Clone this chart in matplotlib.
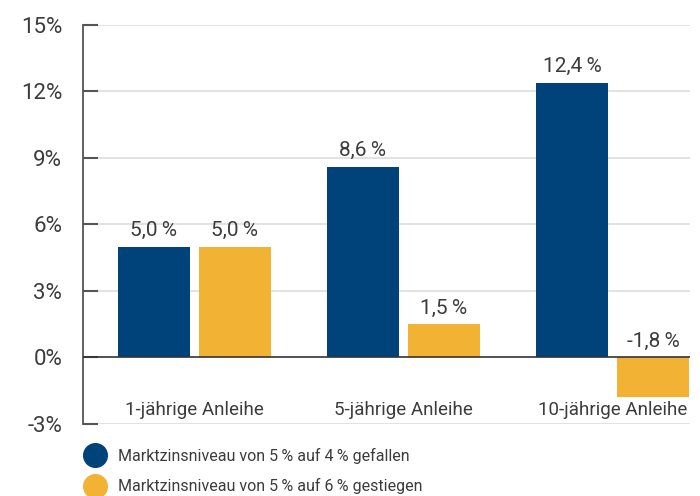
import matplotlib
matplotlib.use("Agg")
import matplotlib.pyplot as plt
from matplotlib.lines import Line2D
import numpy as np

plt.rcParams['font.family'] = ['Roboto', 'DejaVu Sans']

categories = ['1-jährige Anleihe', '5-jährige Anleihe', '10-jährige Anleihe']
gefallen = [5.0, 8.6, 12.4]   # Marktzins 5 % -> 4 %
gestiegen = [5.0, 1.5, -1.8]  # Marktzins 5 % -> 6 %
series_names = ['Marktzinsniveau von 5\u2009% auf 4\u2009% gefallen',
                'Marktzinsniveau von 5\u2009% auf 6\u2009% gestiegen']
yticks = [-3, 0, 3, 6, 9, 12, 15]

blue = '#00427a'
yellow = '#f2b233'
txt = '#3c3c3c'

fig = plt.figure(figsize=(7, 4.96), dpi=100)
ax = fig.add_axes([0.1186, 0.1452, 0.8671, 0.8044])

x = np.arange(len(categories))
w = 0.345
off = 0.194
ax.bar(x - off, gefallen, w, color=blue, zorder=3)
ax.bar(x + off, gestiegen, w, color=yellow, zorder=3)

def lab(v):
    return f'{v:.1f}'.replace('.', ',') + '\u2009%'

for xi, v in zip(x - off, gefallen):
    ax.text(xi, max(v, 0) + 0.3, lab(v), ha='center', va='bottom', fontsize=15, color=txt)
for xi, v in zip(x + off, gestiegen):
    ax.text(xi, max(v, 0) + 0.3, lab(v), ha='center', va='bottom', fontsize=15, color=txt)

for xi, c in zip(x, categories):
    ax.text(xi, -1.95, c, ha='center', va='top', fontsize=13.5, color=txt)

ax.set_xlim(-0.533, 2.371)
ax.set_ylim(-3, 15)
ax.set_yticks(yticks)
ax.set_yticklabels([f'{t}%' for t in yticks], fontsize=16, color=txt)
ax.set_xticks([])
ax.tick_params(axis='y', direction='in', length=11, width=1.5, color='#555555', pad=15)
for t in yticks:
    if t != 0:
        ax.axhline(t, color='#dddddd', lw=1.2, zorder=1)
ax.axhline(0, color='#333333', lw=1.2, zorder=4)
for s in ['top', 'right', 'bottom']:
    ax.spines[s].set_visible(False)
ax.spines['left'].set_color('#555555')
ax.spines['left'].set_linewidth(1.3)

handles = [Line2D([], [], marker='o', ls='', markersize=17, color=c) for c in (blue, yellow)]
fig.legend(handles, series_names, loc='upper left', bbox_to_anchor=(0.106, 0.123),
           frameon=False, fontsize=11.5, labelcolor=txt, handletextpad=0.95,
           labelspacing=0.9, borderpad=0.3, handlelength=1.0)

fig.savefig('out.png', dpi=100)
